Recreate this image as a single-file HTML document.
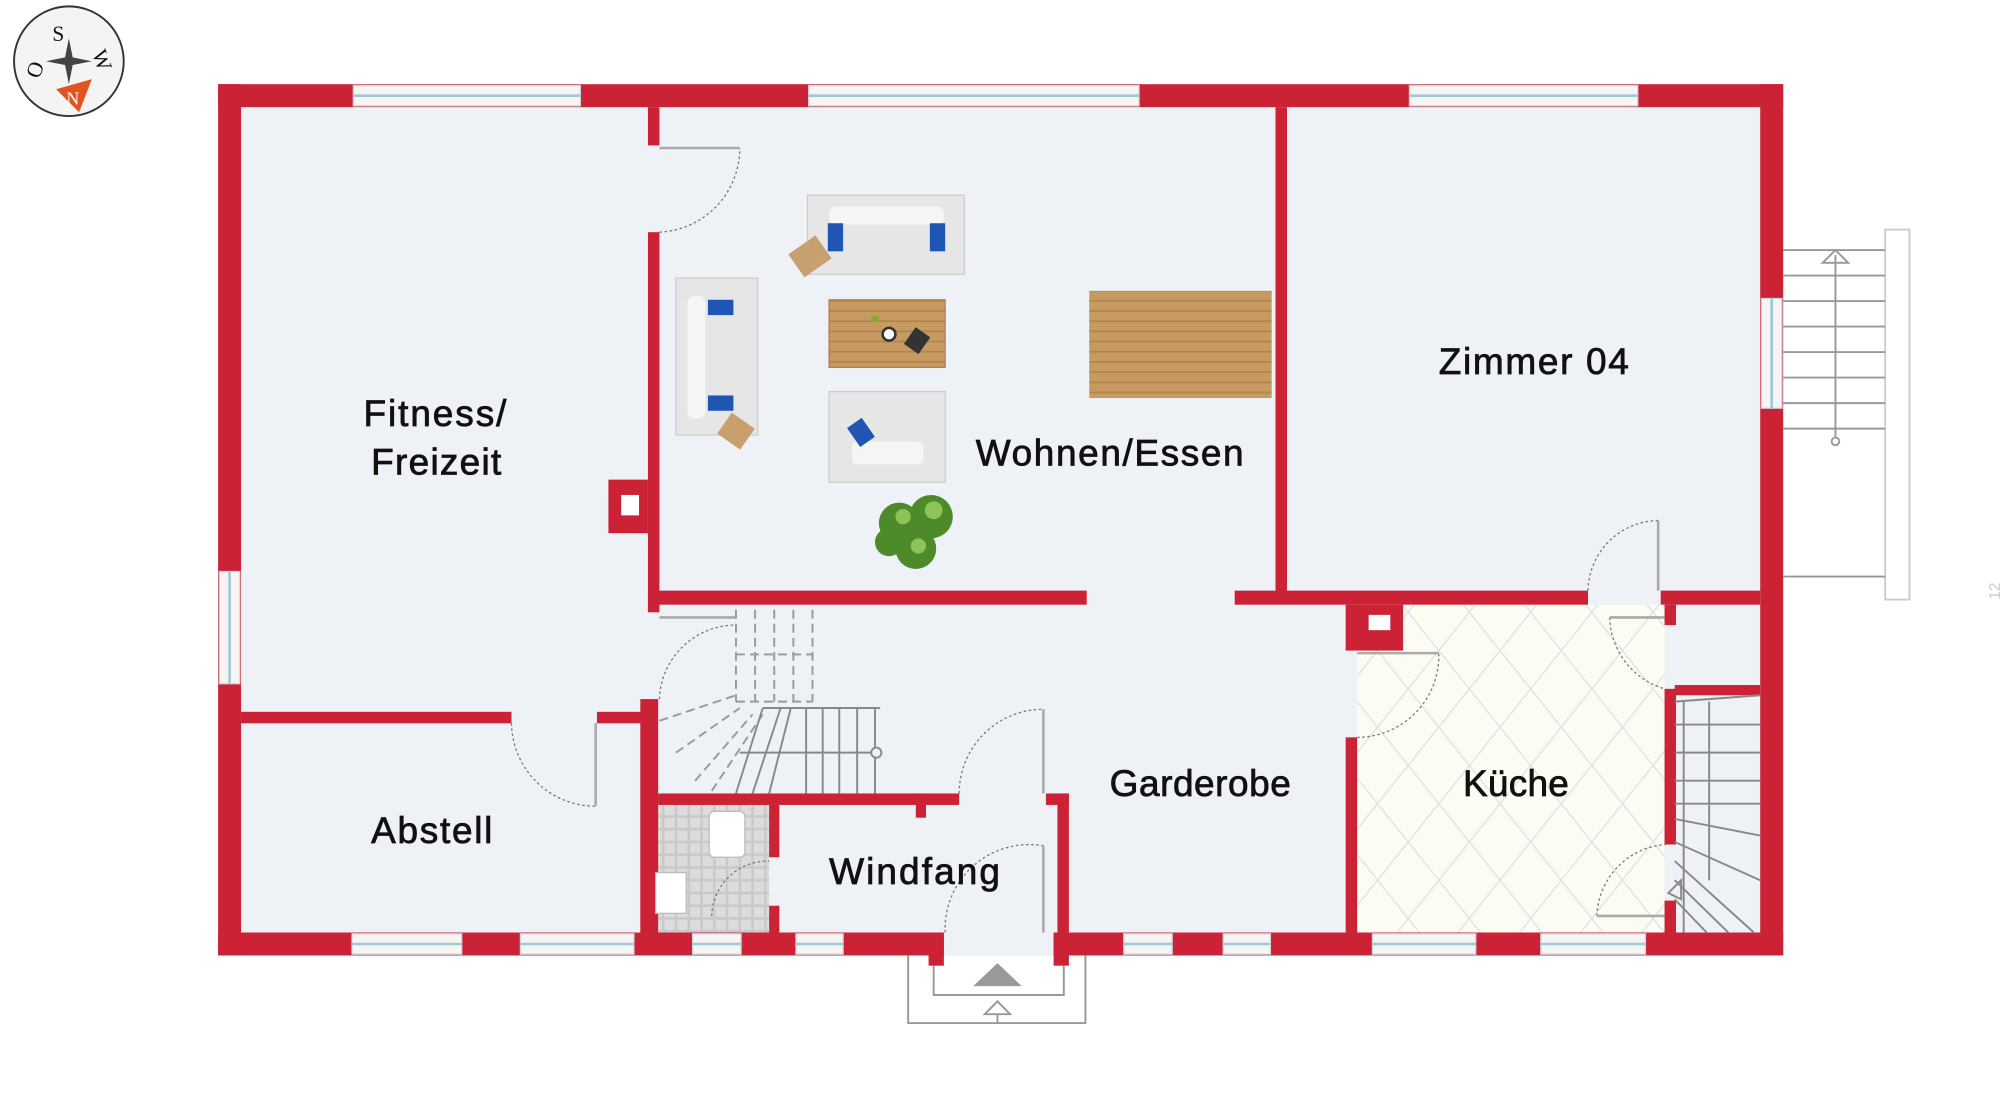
<!DOCTYPE html>
<html><head><meta charset="utf-8"><style>
html,body{margin:0;padding:0;background:#fff;}
svg{display:block;}
text{font-family:"Liberation Sans",sans-serif;fill:#111;stroke:#111;stroke-width:0.6;font-size:29px;}
</style></head><body>
<svg width="2000" height="1106" viewBox="0 0 1568 867" preserveAspectRatio="none" xmlns="http://www.w3.org/2000/svg">
<defs>
<pattern id="dia" width="48" height="60" patternUnits="userSpaceOnUse">
<rect width="48" height="60" fill="#fcfcf3"/>
<path d="M0 0 L48 60 M48 0 L0 60" stroke="#dde0e8" stroke-width="1"/>
</pattern>
<pattern id="tile" width="10" height="10" patternUnits="userSpaceOnUse">
<rect width="10" height="10" fill="#c9c9c9"/><rect x="1" y="1" width="8" height="8" fill="#dcdcdc"/>
</pattern>
<pattern id="wood" width="200" height="8" patternUnits="userSpaceOnUse">
<rect width="200" height="8" fill="#c79a62"/><rect y="3" width="200" height="1.5" fill="#b3864f"/>
</pattern>
</defs>
<!-- floor -->
<rect x="189" y="84" width="1191" height="647" fill="#eef1f6"/>
<rect x="1064" y="474" width="241" height="257" fill="url(#dia)"/>
<rect x="511" y="631" width="92" height="100" fill="url(#tile)"/>

<!-- compass -->
<circle cx="54" cy="48" r="43" fill="#f4f4f4" stroke="#333" stroke-width="1.5"/>
<path d="M44 70 L72 62 L62 88 Z" fill="#e2531f"/>
<text x="41" y="32" style="font-family:'Liberation Serif',serif;font-size:17px;stroke-width:0">S</text>
<text x="73" y="52" style="font-family:'Liberation Serif',serif;font-size:17px;stroke-width:0" transform="rotate(70 80 46)">W</text>
<text x="22" y="60" style="font-family:'Liberation Serif',serif;font-size:17px;stroke-width:0" transform="rotate(-70 28 55)">O</text>
<text x="52" y="82" style="font-family:'Liberation Serif',serif;font-size:14px;fill:#fff;stroke-width:0">N</text>
<path d="M54 30 L57 45 L72 48 L57 51 L54 66 L51 51 L36 48 L51 45 Z" fill="#444"/>

<!-- outer walls -->
<g fill="#cc2236">
<rect x="171" y="66" width="1227" height="18"/>
<rect x="171" y="731" width="1227" height="18"/>
<rect x="171" y="66" width="18" height="683"/>
<rect x="1380" y="66" width="18" height="683"/>
</g>
<!-- windows -->
<g fill="#f7f4f4" stroke="#c9d6de" stroke-width="1">
<rect x="277" y="67" width="178" height="16"/>
<rect x="634" y="67" width="259" height="16"/>
<rect x="1105" y="67" width="179" height="16"/>
<rect x="172" y="448" width="16" height="88"/>
<rect x="1381" y="234" width="16" height="86"/>
<rect x="276" y="732" width="86" height="16"/>
<rect x="408" y="732" width="89" height="16"/>
<rect x="543" y="732" width="38" height="16"/>
<rect x="624" y="732" width="37" height="16"/>
<rect x="881" y="732" width="38" height="16"/>
<rect x="959" y="732" width="37" height="16"/>
<rect x="1076" y="732" width="81" height="16"/>
<rect x="1208" y="732" width="82" height="16"/>
</g>
<g stroke="#9fc7d6" stroke-width="2">
<line x1="277" y1="75" x2="455" y2="75"/><line x1="634" y1="75" x2="893" y2="75"/><line x1="1105" y1="75" x2="1284" y2="75"/>
<line x1="180" y1="448" x2="180" y2="536"/><line x1="1389" y1="234" x2="1389" y2="320"/>
<line x1="276" y1="740" x2="362" y2="740"/><line x1="408" y1="740" x2="497" y2="740"/><line x1="543" y1="740" x2="581" y2="740"/><line x1="624" y1="740" x2="661" y2="740"/><line x1="881" y1="740" x2="919" y2="740"/><line x1="959" y1="740" x2="996" y2="740"/><line x1="1076" y1="740" x2="1157" y2="740"/><line x1="1208" y1="740" x2="1290" y2="740"/>
</g>
<!-- entry gap in bottom wall -->
<rect x="740" y="731" width="86" height="18" fill="#eef1f6"/>

<!-- interior walls -->
<g fill="#cc2236">
<rect x="508" y="84" width="9" height="30"/>
<rect x="508" y="182" width="9" height="298"/>
<rect x="477" y="376" width="31" height="42"/>
<rect x="508" y="463" width="344" height="11"/>
<rect x="968" y="463" width="277" height="11"/>
<rect x="1302" y="463" width="78" height="11"/>
<rect x="1000" y="84" width="9" height="384"/>
<rect x="189" y="558" width="212" height="9"/>
<rect x="468" y="558" width="40" height="9"/>
<rect x="502" y="548" width="14" height="183"/>
<rect x="516" y="622" width="236" height="9"/>
<rect x="718" y="622" width="8" height="19"/>
<rect x="603" y="631" width="8" height="41"/>
<rect x="603" y="710" width="8" height="21"/>
<rect x="820" y="622" width="18" height="9"/>
<rect x="829" y="622" width="9" height="127"/>
<rect x="728" y="731" width="12" height="26"/>
<rect x="826" y="731" width="12" height="26"/>
<rect x="1055" y="474" width="45" height="36"/>
<rect x="1055" y="578" width="9" height="153"/>
<rect x="1305" y="540" width="9" height="122"/>
<rect x="1305" y="474" width="9" height="16"/>
<rect x="1313" y="537" width="67" height="8"/>
<rect x="1305" y="706" width="9" height="25"/>
</g>
<rect x="487" y="388" width="14" height="16" fill="#fff"/>
<rect x="1073" y="482" width="17" height="12" fill="#fff"/>

<!-- doors -->
<g fill="none" stroke="#777" stroke-width="1" stroke-dasharray="2,2">
<path d="M517 182 A66 66 0 0 0 580 116"/>
<path d="M401 567 A66 66 0 0 0 467 632"/>
<path d="M1245 463 A56 56 0 0 1 1300 408"/>
<path d="M1064 578 A64 64 0 0 0 1128 512"/>
<path d="M1262 484 A60 60 0 0 0 1305 540"/>
<path d="M1252 718 A58 58 0 0 1 1306 662"/>
<path d="M752 622 A66 66 0 0 1 818 556"/>
<path d="M741 731 A66 66 0 0 1 818 663"/>
<path d="M558 718 A44 44 0 0 1 603 675"/>
<path d="M517 548 A60 60 0 0 1 577 490"/>
</g>
<g stroke="#aaa" stroke-width="2">
<line x1="517" y1="116" x2="580" y2="116"/><line x1="467" y1="567" x2="467" y2="632"/>
<line x1="1300" y1="408" x2="1300" y2="463"/><line x1="1064" y1="512" x2="1128" y2="512"/>
<line x1="818" y1="556" x2="818" y2="622"/><line x1="818" y1="663" x2="818" y2="731"/>
<line x1="1262" y1="484" x2="1305" y2="484"/><line x1="1252" y1="718" x2="1305" y2="718"/>
<line x1="517" y1="484" x2="577" y2="484"/>
</g>

<!-- central stairs -->
<g stroke="#999" stroke-width="1.5" fill="none" stroke-dasharray="7,4">
<path d="M577 478 V550 M592 478 V550 M607 478 V550 M622 478 V550 M637 478 V550"/>
<path d="M577 513 H637 M577 550 H637"/>
<path d="M517 565 L577 545 M530 590 L580 555 M545 612 L590 560 M558 620 L598 560"/>
</g>
<g stroke="#888" stroke-width="1.5" fill="none">
<line x1="598" y1="555" x2="690" y2="555"/>
<path d="M598 555 L577 622 M612 555 L590 622 M620 555 L603 622 M632 555 V622 M645 555 V622 M658 555 V622 M672 555 V622 M686 555 V622"/>
<line x1="580" y1="590" x2="686" y2="590"/>
<circle cx="687" cy="590" r="4" fill="#eef1f6"/>
</g>

<!-- right interior stair -->
<g stroke="#888" stroke-width="1.5" fill="none">
<path d="M1320 550 V731 M1340 550 V690"/>
<path d="M1313 568 H1380 M1313 590 H1380 M1313 612 H1380 M1313 630 H1380"/>
<path d="M1313 550 L1380 545 M1313 642 L1380 655 M1313 660 L1380 690 M1313 675 L1375 731 M1313 690 L1355 731 M1313 705 L1338 731"/>
<path d="M1318 690 L1308 700 L1318 705 Z"/>
</g>

<!-- external stair -->
<g stroke="#999" stroke-width="1.5" fill="none">
<rect x="1478" y="180" width="19" height="290" fill="#fff" stroke="#ccc"/>
<path d="M1398 196 H1478 M1398 216 H1478 M1398 236 H1478 M1398 256 H1478 M1398 276 H1478 M1398 296 H1478 M1398 316 H1478 M1398 336 H1478 M1398 452 H1478"/>
<line x1="1439" y1="200" x2="1439" y2="345"/>
<path d="M1429 206 L1439 196 L1449 206 Z"/>
<circle cx="1439" cy="346" r="3" fill="#fff"/>
</g>
<text x="1560" y="478" style="font-size:12px;fill:#ccc;stroke-width:0" transform="rotate(-90 1560 470)">12</text>

<!-- entrance -->
<g stroke="#999" stroke-width="1.5" fill="none">
<path d="M712 749 V802 H851 V749"/>
<path d="M732 757 V780 H834 V757"/>
<path d="M772 795 L782 785 L792 795 Z"/>
<line x1="782" y1="795" x2="782" y2="802"/>
</g>
<path d="M763 773 L782 755 L801 773 Z" fill="#999"/>

<!-- furniture -->
<g>
<rect x="633" y="153" width="123" height="62" fill="#e6e6e6" stroke="#ccc"/>
<rect x="650" y="162" width="90" height="14" rx="5" fill="#f5f5f5"/>
<rect x="649" y="175" width="12" height="22" fill="#1f55b3"/>
<rect x="729" y="175" width="12" height="22" fill="#1f55b3"/>
<rect x="622" y="190" width="26" height="22" fill="#c8a070" transform="rotate(-35 635 201)"/>
<rect x="530" y="218" width="64" height="123" fill="#e6e6e6" stroke="#ccc"/>
<rect x="539" y="232" width="14" height="96" rx="5" fill="#f5f5f5"/>
<rect x="555" y="235" width="20" height="12" fill="#1f55b3"/>
<rect x="555" y="310" width="20" height="12" fill="#1f55b3"/>
<rect x="566" y="328" width="22" height="20" fill="#c8a070" transform="rotate(35 577 338)"/>
<rect x="650" y="235" width="91" height="53" fill="url(#wood)" stroke="#b08050"/>
<circle cx="697" cy="262" r="5" fill="#fff" stroke="#333" stroke-width="2"/>
<rect x="712" y="259" width="14" height="16" fill="#333" transform="rotate(35 719 267)"/>
<circle cx="686" cy="250" r="3" fill="#8a3"/>
<rect x="650" y="307" width="91" height="71" fill="#e6e6e6" stroke="#ccc"/>
<rect x="668" y="346" width="56" height="18" rx="4" fill="#f5f5f5"/>
<rect x="668" y="330" width="14" height="18" fill="#1f55b3" transform="rotate(-35 675 339)"/>
<rect x="854" y="228" width="143" height="84" fill="url(#wood)"/>
<g fill="#4d8a2a">
<circle cx="705" cy="410" r="16"/><circle cx="730" cy="405" r="17"/><circle cx="718" cy="430" r="16"/><circle cx="697" cy="425" r="11"/>
</g>
<g fill="#8cc45a"><circle cx="708" cy="405" r="6"/><circle cx="732" cy="400" r="7"/><circle cx="720" cy="428" r="6"/></g>
<rect x="556" y="636" width="28" height="36" rx="4" fill="#fff" stroke="#bbb"/>
<rect x="514" y="684" width="24" height="32" fill="#fff" stroke="#bbb"/>
</g>

<!-- labels -->
<text x="285" y="334" textLength="112">Fitness/</text>
<text x="291" y="372" textLength="102">Freizeit</text>
<text x="765" y="365" textLength="210">Wohnen/Essen</text>
<text x="1128" y="293" textLength="149">Zimmer 04</text>
<text x="870" y="624" textLength="142">Garderobe</text>
<text x="1147" y="624" textLength="83">Küche</text>
<text x="291" y="661" textLength="95">Abstell</text>
<text x="650" y="693" textLength="134">Windfang</text>
</svg>
</body></html>
